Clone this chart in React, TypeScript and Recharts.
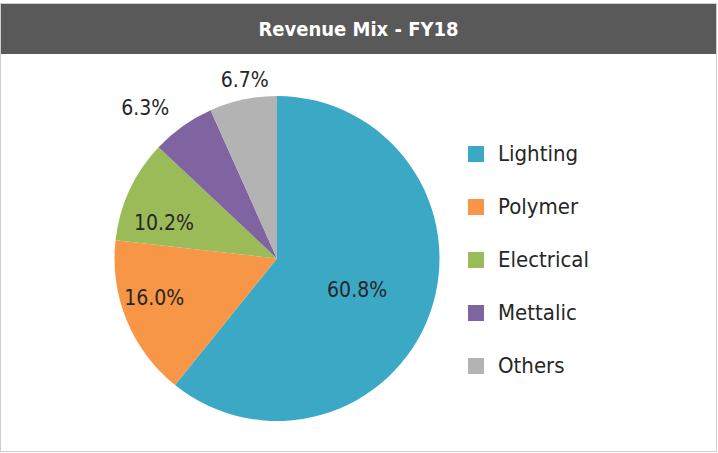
import React from "react";
import { PieChart, Pie, Cell } from "recharts";

const categories = ["Lighting", "Polymer", "Electrical", "Mettalic", "Others"];
const shares = [60.8, 16.0, 10.2, 6.3, 6.7];
const labels = ["60.8%", "16.0%", "10.2%", "6.3%", "6.7%"];
const colors = ["#3BA9C6", "#F79646", "#9BBB59", "#8064A2", "#B3B3B3"];
const labelRadiusFactor = [0.53, 0.794, 0.729, 1.23, 1.116];
const labelAngleShift = [-2.1, -4.5, 7.5, 5.8, -1.8];

const data = categories.map((name, i) => ({ name, value: shares[i], label: labels[i] }));

const FONT = "'DejaVu Sans Condensed', 'Liberation Sans Narrow', 'Roboto', sans-serif";
const RAD = Math.PI / 180;

const renderLabel = (props: any) => {
  const { cx, cy, midAngle, outerRadius, index } = props;
  const r = outerRadius * labelRadiusFactor[index];
  const a = midAngle + labelAngleShift[index];
  const x = cx + r * Math.cos(-a * RAD);
  const y = cy + r * Math.sin(-a * RAD);
  return (
    <text
      x={x}
      y={y}
      textAnchor="middle"
      dominantBaseline="central"
      fill="#262626"
      fontFamily={FONT}
      fontSize={21}
    >
      {data[index].label}
    </text>
  );
};

export default function App() {
  return (
    <div
      style={{
        position: "absolute",
        left: 0,
        top: 0,
        width: 718,
        height: 453,
        background: "#fff",
      }}
    >
      <div
        style={{
          position: "absolute",
          left: 0,
          top: 3,
          width: 715,
          height: 447,
          border: "1px solid #cfcfcf",
        }}
      />
      <div
        style={{
          position: "absolute",
          left: 1,
          top: 4,
          width: 715,
          height: 50,
          background: "#595959",
          color: "#fff",
          fontFamily: FONT,
          fontWeight: "bold",
          fontSize: 20,
          display: "flex",
          alignItems: "center",
          justifyContent: "center",
        }}
      >
        Revenue Mix - FY18
      </div>
      <div style={{ position: "absolute", left: 0, top: 0 }}>
        <PieChart width={718} height={453} margin={{ top: 0, right: 0, bottom: 0, left: 0 }}>
          <Pie
            data={data}
            dataKey="value"
            nameKey="name"
            cx={277}
            cy={258.5}
            outerRadius={162.5}
            startAngle={90}
            endAngle={-270}
            stroke="none"
            label={renderLabel}
            labelLine={false}
            isAnimationActive={false}
          >
            {data.map((d, i) => (
              <Cell key={d.name} fill={colors[i]} />
            ))}
          </Pie>
        </PieChart>
      </div>
      <div
        style={{
          position: "absolute",
          left: 468,
          top: 127,
          fontFamily: FONT,
          fontSize: 22,
          color: "#262626",
        }}
      >
        {data.map((d, i) => (
          <div key={d.name} style={{ display: "flex", alignItems: "center", height: 53 }}>
            <span
              style={{
                display: "inline-block",
                width: 16,
                height: 16,
                background: colors[i],
                marginRight: 14,
              }}
            />
            <span>{d.name}</span>
          </div>
        ))}
      </div>
    </div>
  );
}
